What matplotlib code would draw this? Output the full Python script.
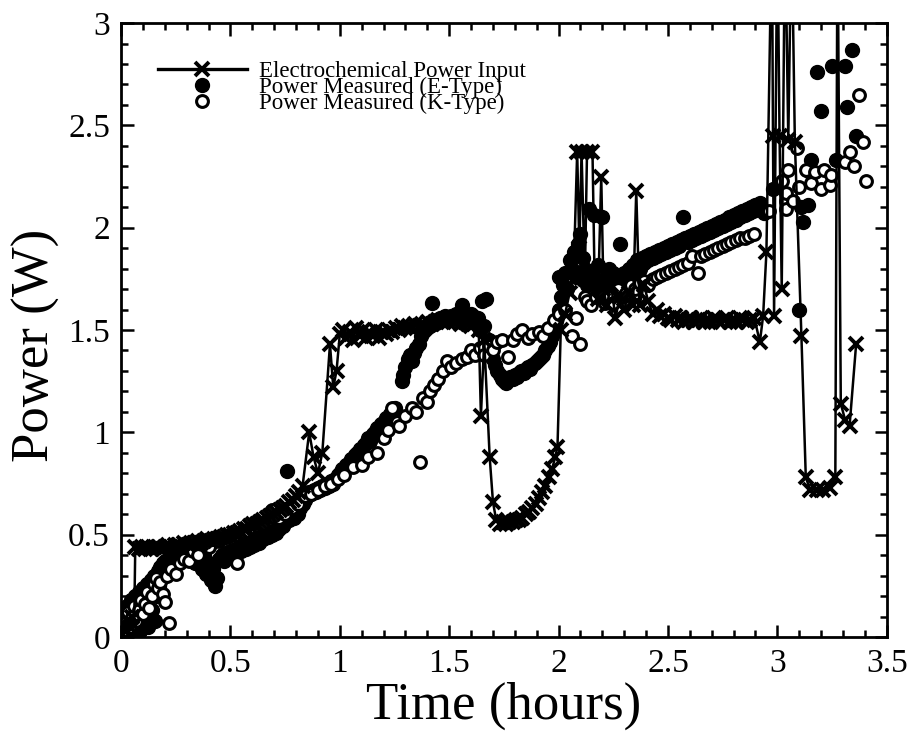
"""Power input vs. measured power over time (E-type and K-type calorimetry)."""

import matplotlib
matplotlib.use("Agg")
import matplotlib.pyplot as plt
from matplotlib.ticker import FuncFormatter, MultipleLocator

# Electrochemical power input (line with x markers), (hours, W)
input_points = [
    (0.00, 0.02), (0.01, 0.06), (0.02, 0.03), (0.03, 0.08), (0.04, 0.05),
    (0.05, 0.10), (0.06, 0.06), (0.065, 0.44), (0.08, 0.43), (0.095, 0.44),
    (0.11, 0.43), (0.125, 0.44), (0.14, 0.43), (0.155, 0.44), (0.17, 0.44),
    (0.185, 0.43), (0.20, 0.44), (0.215, 0.45), (0.23, 0.44), (0.245, 0.45),
    (0.26, 0.45), (0.275, 0.44), (0.29, 0.46), (0.305, 0.45), (0.32, 0.46),
    (0.335, 0.46), (0.35, 0.47), (0.365, 0.46), (0.38, 0.47), (0.395, 0.48),
    (0.41, 0.47), (0.425, 0.48), (0.44, 0.48), (0.455, 0.49), (0.47, 0.49),
    (0.485, 0.50), (0.50, 0.50), (0.515, 0.51), (0.53, 0.51), (0.545, 0.52),
    (0.56, 0.53), (0.575, 0.53), (0.59, 0.54), (0.605, 0.55), (0.62, 0.55),
    (0.635, 0.56), (0.65, 0.57), (0.665, 0.58), (0.68, 0.59), (0.695, 0.60),
    (0.71, 0.61), (0.725, 0.62), (0.74, 0.63), (0.755, 0.64), (0.77, 0.66),
    (0.785, 0.67), (0.80, 0.69), (0.815, 0.71), (0.83, 0.74), (0.86, 1.00),
    (0.88, 0.88), (0.90, 0.80), (0.92, 0.90), (0.955, 1.43), (0.97, 1.22),
    (0.985, 1.30), (1.00, 1.48), (1.015, 1.50), (1.03, 1.46), (1.045, 1.49),
    (1.06, 1.45), (1.075, 1.51), (1.09, 1.47), (1.105, 1.50), (1.12, 1.46),
    (1.135, 1.49), (1.15, 1.47), (1.165, 1.50), (1.18, 1.46), (1.195, 1.49),
    (1.21, 1.48), (1.225, 1.50), (1.24, 1.49), (1.255, 1.51), (1.27, 1.50),
    (1.285, 1.52), (1.30, 1.51), (1.315, 1.52), (1.33, 1.51), (1.345, 1.53),
    (1.36, 1.52), (1.375, 1.53), (1.39, 1.52), (1.405, 1.54), (1.42, 1.53),
    (1.435, 1.54), (1.45, 1.55), (1.465, 1.54), (1.48, 1.55), (1.495, 1.54),
    (1.51, 1.55), (1.525, 1.54), (1.54, 1.55), (1.555, 1.53), (1.57, 1.54),
    (1.585, 1.53), (1.60, 1.52), (1.615, 1.53), (1.635, 1.50), (1.645, 1.08),
    (1.66, 1.45), (1.685, 0.88), (1.70, 0.66), (1.715, 0.57), (1.73, 0.55),
    (1.745, 0.56), (1.76, 0.55), (1.775, 0.56), (1.79, 0.56), (1.805, 0.57),
    (1.82, 0.57), (1.835, 0.58), (1.85, 0.60), (1.865, 0.61), (1.88, 0.63),
    (1.895, 0.65), (1.91, 0.68), (1.925, 0.71), (1.94, 0.74), (1.955, 0.78),
    (1.97, 0.82), (1.985, 0.88), (1.995, 0.93), (2.01, 1.50), (2.03, 1.58),
    (2.05, 1.68), (2.07, 1.82), (2.085, 2.37), (2.095, 1.90), (2.105, 2.37),
    (2.12, 1.75), (2.13, 2.37), (2.155, 2.37), (2.165, 1.72), (2.18, 1.65),
    (2.195, 2.25), (2.205, 1.70), (2.22, 1.62), (2.24, 1.72), (2.26, 1.56),
    (2.28, 1.66), (2.30, 1.60), (2.32, 1.68), (2.34, 1.62), (2.355, 2.18),
    (2.37, 1.62), (2.39, 1.72), (2.41, 1.64), (2.43, 1.58), (2.45, 1.60),
    (2.465, 1.57), (2.48, 1.58), (2.50, 1.56), (2.515, 1.55), (2.53, 1.57),
    (2.545, 1.55), (2.56, 1.56), (2.575, 1.54), (2.59, 1.55), (2.605, 1.56),
    (2.62, 1.54), (2.635, 1.55), (2.65, 1.56), (2.665, 1.54), (2.68, 1.55),
    (2.695, 1.54), (2.71, 1.56), (2.725, 1.55), (2.74, 1.54), (2.755, 1.55),
    (2.77, 1.56), (2.785, 1.54), (2.80, 1.55), (2.815, 1.54), (2.83, 1.56),
    (2.845, 1.55), (2.86, 1.54), (2.875, 1.55), (2.895, 1.56), (2.92, 1.44),
    (2.935, 1.57), (2.95, 1.88), (2.975, 3.50), (2.98, 2.45), (2.985, 1.57),
    (3.00, 3.50), (3.01, 2.45), (3.02, 1.70), (3.035, 3.50), (3.05, 2.43),
    (3.065, 3.50), (3.08, 2.42), (3.11, 1.47), (3.13, 0.78), (3.15, 0.72),
    (3.18, 0.72), (3.21, 0.72), (3.24, 0.73), (3.265, 0.78), (3.275, 3.50),
    (3.29, 1.14), (3.31, 1.06), (3.33, 1.03), (3.36, 1.43),
]

# Power measured with the E-type thermocouples (filled circles)
etype_points = [
    (0.00, 0.02), (0.00, 0.08), (0.005, 0.05), (0.01, 0.12), (0.01, 0.00),
    (0.015, 0.07), (0.02, 0.03), (0.02, 0.10), (0.025, 0.15), (0.03, 0.05),
    (0.03, 0.01), (0.035, 0.09), (0.04, 0.13), (0.04, 0.03), (0.045, 0.18),
    (0.05, 0.07), (0.05, 0.11), (0.055, 0.02), (0.06, 0.15), (0.06, 0.09),
    (0.065, 0.20), (0.07, 0.05), (0.07, 0.13), (0.075, 0.17), (0.08, 0.10),
    (0.08, 0.22), (0.085, 0.03), (0.09, 0.14), (0.09, 0.19), (0.095, 0.07),
    (0.10, 0.24), (0.10, 0.12), (0.105, 0.17), (0.11, 0.21), (0.115, 0.09),
    (0.12, 0.26), (0.12, 0.15), (0.125, 0.05), (0.13, 0.19), (0.135, 0.28),
    (0.14, 0.13), (0.145, 0.23), (0.15, 0.30), (0.155, 0.08), (0.16, 0.27),
    (0.165, 0.20), (0.17, 0.32), (0.175, 0.25), (0.18, 0.34), (0.185, 0.29),
    (0.19, 0.36), (0.195, 0.31), (0.20, 0.37), (0.21, 0.33), (0.215, 0.38),
    (0.22, 0.35), (0.23, 0.40), (0.235, 0.36), (0.24, 0.41), (0.25, 0.38),
    (0.26, 0.42), (0.27, 0.39), (0.28, 0.43), (0.29, 0.40), (0.30, 0.42),
    (0.31, 0.38), (0.32, 0.44), (0.33, 0.40), (0.34, 0.36), (0.35, 0.42),
    (0.36, 0.38), (0.37, 0.33), (0.38, 0.40), (0.39, 0.31), (0.40, 0.36),
    (0.41, 0.28), (0.42, 0.33), (0.43, 0.25), (0.44, 0.29), (0.45, 0.38),
    (0.46, 0.40), (0.47, 0.37), (0.48, 0.41), (0.49, 0.39), (0.50, 0.42),
    (0.51, 0.40), (0.52, 0.43), (0.53, 0.41), (0.54, 0.44), (0.55, 0.42),
    (0.56, 0.45), (0.57, 0.43), (0.58, 0.46), (0.59, 0.44), (0.60, 0.47),
    (0.61, 0.45), (0.62, 0.48), (0.63, 0.46), (0.64, 0.49), (0.65, 0.48),
    (0.66, 0.50), (0.67, 0.49), (0.68, 0.51), (0.69, 0.50), (0.70, 0.52),
    (0.71, 0.51), (0.72, 0.53), (0.73, 0.55), (0.74, 0.54), (0.75, 0.56),
    (0.76, 0.81), (0.77, 0.57), (0.78, 0.59), (0.79, 0.58), (0.80, 0.61),
    (0.81, 0.60), (0.82, 0.63), (0.83, 0.65), (0.84, 0.67), (0.85, 0.69),
    (0.86, 0.71), (0.87, 0.70), (0.88, 0.72), (0.89, 0.71), (0.90, 0.73),
    (0.91, 0.72), (0.92, 0.74), (0.93, 0.73), (0.94, 0.75), (0.95, 0.74),
    (0.96, 0.76), (0.97, 0.75), (0.98, 0.77), (0.99, 0.79), (1.00, 0.80),
    (1.01, 0.82), (1.02, 0.81), (1.03, 0.84), (1.04, 0.85), (1.05, 0.87),
    (1.06, 0.86), (1.07, 0.89), (1.08, 0.90), (1.09, 0.92), (1.10, 0.91),
    (1.11, 0.94), (1.12, 0.95), (1.13, 0.97), (1.14, 0.96), (1.15, 0.99),
    (1.16, 1.00), (1.17, 1.02), (1.18, 1.01), (1.19, 1.04), (1.20, 1.05),
    (1.21, 1.07), (1.22, 1.06), (1.23, 1.09), (1.24, 1.10), (1.25, 1.12),
    (1.285, 1.25), (1.29, 1.28), (1.30, 1.32), (1.31, 1.36), (1.32, 1.38),
    (1.33, 1.35), (1.34, 1.39), (1.35, 1.41), (1.36, 1.43), (1.37, 1.47),
    (1.38, 1.49), (1.39, 1.50), (1.40, 1.51), (1.41, 1.52), (1.42, 1.63),
    (1.43, 1.53), (1.44, 1.55), (1.45, 1.54), (1.46, 1.56), (1.47, 1.55),
    (1.48, 1.57), (1.49, 1.56), (1.50, 1.55), (1.51, 1.57), (1.52, 1.56),
    (1.53, 1.58), (1.54, 1.57), (1.55, 1.56), (1.56, 1.62), (1.57, 1.58),
    (1.58, 1.57), (1.59, 1.56), (1.60, 1.58), (1.61, 1.57), (1.62, 1.55),
    (1.63, 1.56), (1.64, 1.50), (1.65, 1.64), (1.66, 1.52), (1.67, 1.65),
    (1.68, 1.45), (1.69, 1.40), (1.70, 1.36), (1.71, 1.33), (1.72, 1.30),
    (1.73, 1.28), (1.74, 1.26), (1.75, 1.25), (1.76, 1.24), (1.77, 1.26),
    (1.78, 1.27), (1.79, 1.26), (1.80, 1.28), (1.81, 1.27), (1.82, 1.29),
    (1.83, 1.30), (1.84, 1.29), (1.85, 1.31), (1.86, 1.32), (1.87, 1.31),
    (1.88, 1.33), (1.89, 1.34), (1.90, 1.35), (1.91, 1.36), (1.92, 1.37),
    (1.93, 1.38), (1.94, 1.40), (1.95, 1.42), (1.96, 1.44), (1.97, 1.47),
    (1.98, 1.50), (1.99, 1.55), (2.00, 1.60), (2.00, 1.76), (2.01, 1.66),
    (2.02, 1.72), (2.03, 1.78), (2.04, 1.70), (2.05, 1.84), (2.06, 1.80),
    (2.07, 1.88), (2.08, 1.76), (2.09, 1.92), (2.10, 1.97), (2.11, 1.85),
    (2.12, 1.80), (2.13, 1.72), (2.14, 2.09), (2.15, 1.78), (2.16, 2.06),
    (2.17, 1.74), (2.18, 1.82), (2.19, 1.70), (2.20, 2.05), (2.21, 1.76),
    (2.22, 1.68), (2.23, 1.80), (2.24, 1.72), (2.25, 1.78), (2.26, 1.66),
    (2.27, 1.76), (2.28, 1.92), (2.29, 1.74), (2.30, 1.78), (2.31, 1.72),
    (2.32, 1.80), (2.33, 1.76), (2.34, 1.82), (2.35, 1.78), (2.36, 1.84),
    (2.37, 1.80), (2.38, 1.85), (2.39, 1.83), (2.40, 1.86), (2.41, 1.84),
    (2.42, 1.87), (2.43, 1.85), (2.44, 1.88), (2.45, 1.86), (2.46, 1.89),
    (2.47, 1.87), (2.48, 1.90), (2.49, 1.88), (2.50, 1.91), (2.51, 1.89),
    (2.52, 1.92), (2.53, 1.90), (2.54, 1.93), (2.55, 1.91), (2.56, 1.94),
    (2.57, 2.05), (2.58, 1.95), (2.59, 1.93), (2.60, 1.96), (2.61, 1.94),
    (2.62, 1.97), (2.63, 1.95), (2.64, 1.98), (2.65, 1.96), (2.66, 1.99),
    (2.67, 1.97), (2.68, 2.00), (2.69, 1.98), (2.70, 2.01), (2.71, 1.99),
    (2.72, 2.02), (2.73, 2.00), (2.74, 2.03), (2.75, 2.01), (2.76, 2.04),
    (2.77, 2.02), (2.78, 2.05), (2.79, 2.03), (2.80, 2.06), (2.81, 2.04),
    (2.82, 2.07), (2.83, 2.05), (2.84, 2.08), (2.85, 2.06), (2.86, 2.09),
    (2.87, 2.07), (2.88, 2.10), (2.89, 2.08), (2.90, 2.11), (2.91, 2.09),
    (2.92, 2.12), (2.94, 2.07), (2.98, 2.19), (3.10, 1.60), (3.11, 2.10),
    (3.115, 2.03), (3.14, 2.11), (3.15, 2.27), (3.155, 2.33), (3.18, 2.76),
    (3.20, 2.57), (3.25, 2.79), (3.27, 2.33), (3.31, 2.79), (3.32, 2.59),
    (3.34, 2.87), (3.36, 2.45),
]

# Power measured with the K-type thermocouples (open circles)
ktype_points = [
    (0.01, 0.03), (0.02, 0.07), (0.03, 0.12), (0.04, 0.05), (0.05, 0.10),
    (0.06, 0.15), (0.07, 0.08), (0.08, 0.13), (0.09, 0.18), (0.10, 0.11),
    (0.11, 0.16), (0.12, 0.22), (0.13, 0.14), (0.14, 0.20), (0.15, 0.26),
    (0.16, 0.29), (0.17, 0.24), (0.18, 0.27), (0.19, 0.21), (0.20, 0.17),
    (0.21, 0.30), (0.22, 0.07), (0.23, 0.33), (0.25, 0.31), (0.27, 0.36),
    (0.29, 0.38), (0.31, 0.37), (0.33, 0.42), (0.35, 0.40), (0.37, 0.47),
    (0.40, 0.44), (0.42, 0.48), (0.45, 0.47), (0.48, 0.49), (0.50, 0.50),
    (0.53, 0.36), (0.55, 0.51), (0.58, 0.52), (0.62, 0.56), (0.65, 0.55),
    (0.69, 0.62), (0.72, 0.58), (0.75, 0.60), (0.78, 0.63), (0.81, 0.65),
    (0.84, 0.69), (0.87, 0.70), (0.90, 0.72), (0.93, 0.74), (0.96, 0.75),
    (0.99, 0.77), (1.02, 0.79), (1.06, 0.83), (1.10, 0.84), (1.13, 0.88),
    (1.17, 0.90), (1.20, 0.97), (1.22, 1.01), (1.24, 1.12), (1.26, 1.05),
    (1.27, 1.03), (1.30, 1.08), (1.33, 1.12), (1.35, 1.10), (1.365, 0.855),
    (1.38, 1.17), (1.40, 1.15), (1.41, 1.20), (1.43, 1.23), (1.45, 1.26),
    (1.47, 1.30), (1.49, 1.35), (1.51, 1.32), (1.53, 1.34), (1.56, 1.36),
    (1.58, 1.37), (1.60, 1.40), (1.62, 1.38), (1.64, 1.41), (1.66, 1.38),
    (1.68, 1.42), (1.70, 1.40), (1.72, 1.44), (1.74, 1.45), (1.77, 1.37),
    (1.79, 1.45), (1.81, 1.48), (1.835, 1.50), (1.86, 1.46), (1.88, 1.48),
    (1.91, 1.49), (1.93, 1.47), (1.95, 1.51), (1.98, 1.55), (2.00, 1.58),
    (2.03, 1.60), (2.06, 1.47), (2.08, 1.56), (2.10, 1.43), (2.12, 1.66),
    (2.13, 1.64), (2.15, 1.62), (2.17, 1.66), (2.19, 1.68), (2.21, 1.63),
    (2.23, 1.66), (2.25, 1.63), (2.27, 1.70), (2.29, 1.66), (2.31, 1.68),
    (2.33, 1.72), (2.35, 1.70), (2.37, 1.73), (2.39, 1.74), (2.41, 1.72),
    (2.43, 1.75), (2.45, 1.76), (2.47, 1.77), (2.49, 1.78), (2.51, 1.79),
    (2.53, 1.80), (2.55, 1.81), (2.57, 1.82), (2.59, 1.83), (2.61, 1.86),
    (2.635, 1.78), (2.65, 1.86), (2.67, 1.87), (2.69, 1.88), (2.71, 1.89),
    (2.73, 1.90), (2.75, 1.91), (2.77, 1.92), (2.79, 1.93), (2.81, 1.94),
    (2.83, 1.95), (2.85, 1.95), (2.87, 1.96), (2.895, 1.97), (2.96, 2.08),
    (3.02, 2.23), (3.04, 2.13), (3.04, 2.09), (3.04, 2.17), (3.05, 2.28),
    (3.07, 2.13), (3.09, 2.39), (3.10, 2.20), (3.13, 2.28), (3.155, 2.22),
    (3.17, 2.27), (3.20, 2.19), (3.215, 2.28), (3.24, 2.21), (3.245, 2.26),
    (3.31, 2.32), (3.33, 2.37), (3.35, 2.30), (3.375, 2.65), (3.39, 2.42),
    (3.405, 2.23),
]

input_time, input_power = zip(*input_points)
etype_time, etype_power = zip(*etype_points)
ktype_time, ktype_power = zip(*ktype_points)

plt.rcParams["font.family"] = ["Liberation Serif", "DejaVu Serif"]

fig = plt.figure(figsize=(9.17, 7.45), dpi=100)
ax = fig.add_axes([0.132, 0.145, 0.835, 0.824])

ax.plot(input_time, input_power, color="black", linewidth=1.8, marker="x",
        markersize=9.5, markeredgewidth=2.8, label="Electrochemical Power Input", zorder=3)
ax.plot(etype_time, etype_power, linestyle="none", marker="o", markersize=10,
        markerfacecolor="black", markeredgecolor="black",
        label="Power Measured (E-Type)", zorder=2)
ax.plot(ktype_time, ktype_power, linestyle="none", marker="o", markersize=8.5,
        markerfacecolor="white", markeredgecolor="black", markeredgewidth=2.2,
        label="Power Measured (K-Type)", zorder=2)

ax.set_xlim(0, 3.5)
ax.set_ylim(0, 3)
plain_number = FuncFormatter(lambda value, _pos: f"{value:g}")
ax.xaxis.set_major_locator(MultipleLocator(0.5))
ax.xaxis.set_minor_locator(MultipleLocator(0.1))
ax.yaxis.set_major_locator(MultipleLocator(0.5))
ax.yaxis.set_minor_locator(MultipleLocator(0.1))
ax.xaxis.set_major_formatter(plain_number)
ax.yaxis.set_major_formatter(plain_number)
ax.tick_params(which="both", direction="in", top=True, right=True, width=1.8)
ax.tick_params(which="major", length=9, pad=8, labelsize=24)
ax.tick_params(which="minor", length=5)
for spine in ax.spines.values():
    spine.set_linewidth(2.0)

ax.set_xlabel("Time (hours)", fontsize=38, labelpad=2)
ax.set_ylabel("Power (W)", fontsize=38, labelpad=6, y=0.475)

# the original legend rows sit tight, so the label spacing is negative
legend = ax.legend(loc="upper left", bbox_to_anchor=(0.036, 0.953), frameon=False,
                   fontsize=16.5, handlelength=3.9, numpoints=1, labelspacing=-0.22,
                   handletextpad=0.5, borderaxespad=0)
for handle in legend.get_lines():
    handle.set_linewidth(2.4)

fig.savefig("out.png", dpi=100)
